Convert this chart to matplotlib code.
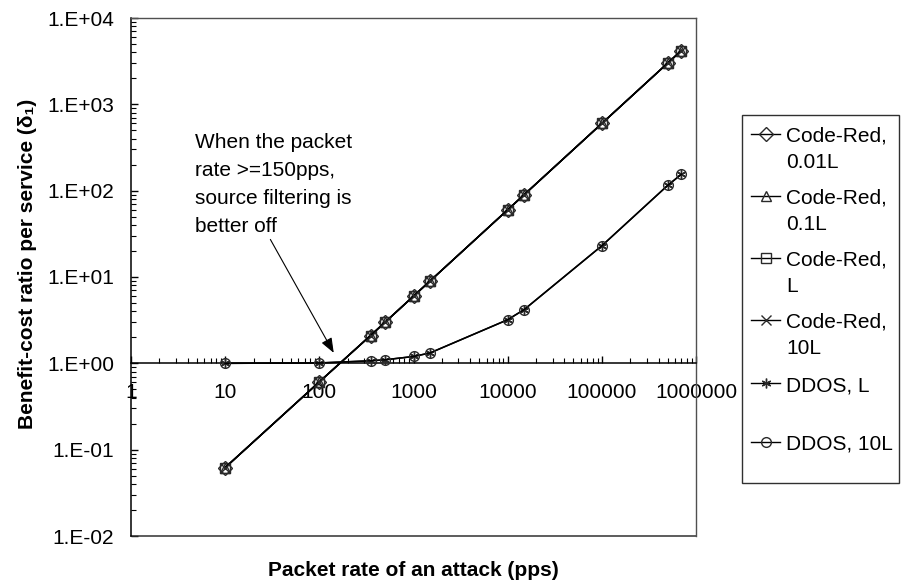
import numpy as np
import matplotlib
matplotlib.use('Agg')
import matplotlib.pyplot as plt
from matplotlib.lines import Line2D
from matplotlib.patches import Rectangle
from matplotlib.ticker import FixedLocator, FixedFormatter, NullFormatter

plt.rcParams['font.family'] = ['Liberation Sans', 'DejaVu Sans']

# Dane
packet_rate = [10, 100, 350, 500, 1000, 1500, 10000, 15000, 100000, 500000, 700000]
code_red = [0.062, 0.61, 2.1, 3.0, 6.0, 9.0, 60, 90, 600, 3000, 4200]
ddos = [1.0, 1.01, 1.07, 1.1, 1.2, 1.32, 3.2, 4.2, 23, 115, 155]

series_names = ['Code-Red,\n0.01L', 'Code-Red,\n0.1L', 'Code-Red,\nL', 'Code-Red,\n10L',
                'DDOS, L', 'DDOS, 10L']
series_values = [code_red, code_red, code_red, code_red, ddos, ddos]
markers = ['D', '^', 's', 'x', (6, 2, 0), 'o']

x_ticks = [1, 10, 100, 1000, 10000, 100000, 1000000]
x_labels = ['1', '10', '100', '1000', '10000', '100000', '1000000']
y_ticks = [1e-2, 1e-1, 1e0, 1e1, 1e2, 1e3, 1e4]
y_labels = ['1.E-02', '1.E-01', '1.E+00', '1.E+01', '1.E+02', '1.E+03', '1.E+04']

FS = 15
W, H = 901, 588
fig = plt.figure(figsize=(W / 100, H / 100), dpi=100)
ax = fig.add_axes([131 / W, 52 / H, 565 / W, 518 / H])

edge = '#2a2a2a'
for name, vals, m in zip(series_names, series_values, markers):
    ax.plot(packet_rate, vals, color='black', lw=1.1, marker=m, markersize=7,
            markerfacecolor='none', markeredgecolor=edge, markeredgewidth=1.0, zorder=3)

ax.set_xscale('log')
ax.set_yscale('log')
ax.set_xlim(1, 1e6)
ax.set_ylim(1e-2, 1e4)

# oś X przecina oś Y w punkcie 1
ax.spines['bottom'].set_position(('data', 1))
ax.spines['bottom'].set_linewidth(1.1)
ax.spines['left'].set_linewidth(1.1)
for s in ['top', 'right']:
    ax.spines[s].set_color('#505050')
    ax.spines[s].set_linewidth(1.0)
ax.plot([0, 1], [0, 0], transform=ax.transAxes, color='#303030', lw=1.1, clip_on=False)

ax.xaxis.set_major_locator(FixedLocator(x_ticks))
ax.xaxis.set_major_formatter(FixedFormatter(x_labels))
ax.xaxis.set_minor_formatter(NullFormatter())
ax.yaxis.set_major_locator(FixedLocator(y_ticks))
ax.yaxis.set_major_formatter(FixedFormatter(y_labels))
ax.yaxis.set_minor_formatter(NullFormatter())

ax.tick_params(axis='x', which='major', direction='in', length=5, width=1, pad=14, labelsize=FS)
ax.tick_params(axis='x', which='minor', direction='in', length=3.5, width=0.8)
ax.tick_params(axis='y', which='major', direction='in', length=5, width=1, pad=12, labelsize=FS)
ax.tick_params(axis='y', which='minor', direction='in', length=3.5, width=0.8)

fig.text(413 / W, 1 - 570 / H, 'Packet rate of an attack (pps)', ha='center', va='center',
         fontsize=FS, fontweight='bold')
fig.text(28 / W, 1 - 264 / H, 'Benefit-cost ratio per service (δ₁)', ha='center', va='center',
         rotation=90, fontsize=FS, fontweight='bold')

# adnotacja
fig.text(195 / W, 1 - 133 / H, 'When the packet\nrate >=150pps,\nsource filtering is\nbetter off',
         ha='left', va='top', fontsize=FS, linespacing=1.6)
ax.annotate('', xy=(147, 1.24), xycoords='data', xytext=(269, H - 237), textcoords='figure pixels',
            arrowprops=dict(arrowstyle='-|>,head_length=0.9,head_width=0.35', color='black', lw=0.8))

# legenda
fig.patches.append(Rectangle((742 / W, 1 - 483 / H), 157 / W, 368 / H, transform=fig.transFigure,
                             facecolor='white', edgecolor='#303030', lw=1.0))
entry_y = [134, 196, 258, 320, 383, 442]
for name, m, yy in zip(series_names, markers, entry_y):
    fig.lines.append(Line2D([751 / W, 780 / W], [1 - yy / H, 1 - yy / H], transform=fig.transFigure,
                            color='black', lw=1.0))
    fig.lines.append(Line2D([765.5 / W], [1 - yy / H], transform=fig.transFigure, marker=m,
                            markersize=7, markerfacecolor='none', markeredgecolor=edge,
                            markeredgewidth=1.0))
    fig.text(786 / W, 1 - (yy - 7) / H, name, ha='left', va='top', fontsize=FS, linespacing=1.45)

fig.savefig('out.png', dpi=100)
